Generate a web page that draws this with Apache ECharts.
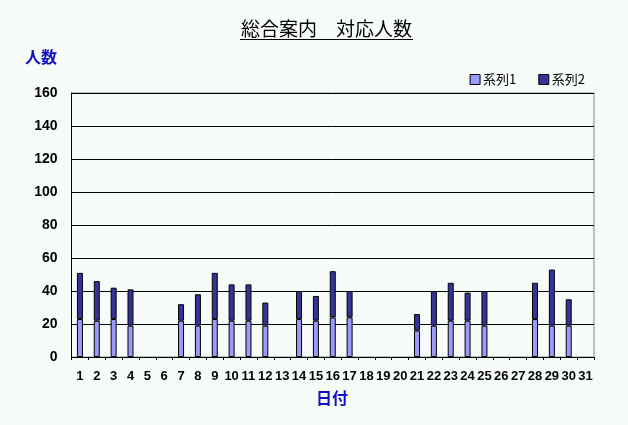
<!DOCTYPE html>
<html>
<head>
<meta charset="utf-8">
<script src="https://cdn.jsdelivr.net/npm/echarts@6/dist/echarts.min.js"></script>
<style>
html,body{margin:0;padding:0;background:#f8fcf8;}
#c{width:628px;height:425px;}
</style>
</head>
<body>
<div id="c"></div>
<script>
const days = ['1','2','3','4','5','6','7','8','9','10','11','12','13','14','15','16','17','18','19','20','21','22','23','24','25','26','27','28','29','30','31'];
const series1 = [23,22,23,19,null,null,22,19,23,22,22,19,null,23,22,24,24,null,null,null,16,19,22,22,19,null,null,23,19,19,null];
const series2 = [28,24,19,22,null,null,10,19,28,22,22,14,null,17,15,28,16,null,null,null,10,21,23,17,21,null,null,22,34,16,null];
const yTicks = [0,20,40,60,80,100,120,140,160];

const chart = echarts.init(document.getElementById('c'));
const fontJP = '"Noto Sans CJK JP", sans-serif';
chart.setOption({
  backgroundColor: '#f8fcf8',
  animation: false,
  graphic: [
    { type: 'text', left: 241, top: 19, style: { text: '総合案内　対応人数', font: '19px ' + fontJP, fill: '#000' } },
    { type: 'line', shape: { x1: 240, y1: 39.5, x2: 413, y2: 39.5 }, style: { stroke: '#000', lineWidth: 1 } },
    { type: 'text', left: 25, top: 49, style: { text: '人数', font: 'bold 16px ' + fontJP, fill: '#1010c0' } },
    { type: 'text', left: 316, top: 390, style: { text: '日付', font: 'bold 16px ' + fontJP, fill: '#1010c0' } }
  ],
  legend: {
    right: 38,
    top: 68,
    itemWidth: 10,
    itemHeight: 10,
    itemGap: 22,
    textStyle: { fontFamily: fontJP, fontSize: 13, color: '#000', padding: [0,0,0,-2] },
    data: [
      { name: '系列1', icon: 'rect', itemStyle: { borderColor: '#000', borderWidth: 1 } },
      { name: '系列2', icon: 'rect', itemStyle: { borderColor: '#000', borderWidth: 1 } }
    ]
  },
  grid: { left: 71.5, right: 34, top: 93, bottom: 68, show: true, borderColor: '#888', borderWidth: 1, backgroundColor: 'transparent' },
  xAxis: {
    type: 'category',
    data: days,
    boundaryGap: true,
    axisLine: { lineStyle: { color: '#000', width: 1 } },
    axisTick: { show: true, alignWithLabel: false, length: 3, lineStyle: { color: '#000' }, interval: 0 },
    axisLabel: { interval: 0, margin: 13, fontFamily: 'Liberation Sans, Arial', fontSize: 13, fontWeight: 'bold', color: '#000' }
  },
  yAxis: {
    type: 'value',
    min: 0,
    max: 160,
    interval: 20,
    axisLine: { show: true, lineStyle: { color: '#000', width: 1 } },
    axisTick: { show: false },
    splitLine: { lineStyle: { color: '#000', width: 1 } },
    axisLabel: {
      margin: 14,
      fontFamily: 'Liberation Sans, Arial',
      fontSize: 14,
      fontWeight: 'bold',
      color: '#000',
      formatter: v => yTicks.includes(v) ? String(v) : ''
    }
  },
  series: [
    { name: '系列1', type: 'bar', stack: 't', data: series1, barWidth: 6,
      itemStyle: { color: '#9999ff', borderColor: '#000', borderWidth: 1 } },
    { name: '系列2', type: 'bar', stack: 't', data: series2, barWidth: 6,
      itemStyle: { color: '#333399', borderColor: '#000', borderWidth: 1 } }
  ]
});
</script>
</body>
</html>
